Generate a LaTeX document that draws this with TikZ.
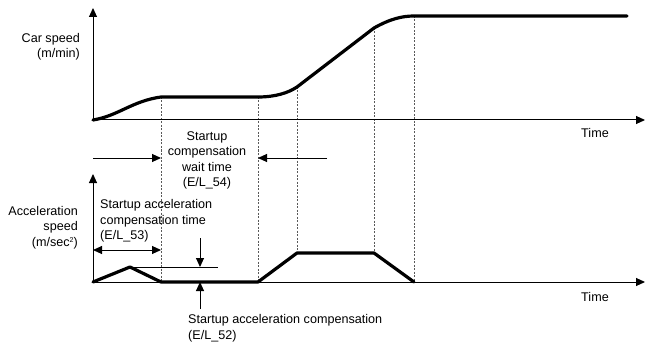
\documentclass[tikz,border=0pt]{standalone}
\usepackage{fontspec}
\setmainfont{Liberation Sans}
\usetikzlibrary{arrows.meta}
\begin{document}
\begin{tikzpicture}[x=1pt,y=-1pt,
  axis/.style={line width=1pt,-{Triangle[length=9pt,width=8pt]}},
  curve/.style={line width=3.2pt,line join=round,line cap=round},
  guide/.style={line width=0.8pt,gray!70!black,dash pattern=on 2pt off 1.5pt},
  thinline/.style={line width=1pt},
  pointer/.style={line width=1pt,-{Triangle[length=9pt,width=8pt]}},
  dbl/.style={line width=1pt,{Triangle[length=9pt,width=8pt]}-{Triangle[length=9pt,width=8pt]}},
  lbl/.style={inner sep=0pt,font=\fontsize{12.6}{15.5}\selectfont}
]
\useasboundingbox (0,0) rectangle (645,342);
% coordinates
\coordinate (o1) at (93,120);
\coordinate (y1) at (93,8);
\coordinate (x1) at (645,120);
\coordinate (o2) at (93,282);
\coordinate (y2) at (93,174);
\coordinate (x2) at (645,282);
% speed key points
\coordinate (s1) at (161,97);
\coordinate (s2) at (258,97);
\coordinate (s3) at (297,87);
\coordinate (s4) at (374,28);
\coordinate (s5) at (414,16);
\coordinate (s6) at (627,16);
% acceleration key points
\coordinate (a0) at (93,282);
\coordinate (ap) at (130,267);
\coordinate (a1) at (161,282);
\coordinate (a2) at (258,282);
\coordinate (a3) at (297,253);
\coordinate (a4) at (374,253);
\coordinate (a5) at (414,282);
% guides
\draw[guide] (s1) -- (a1);
\draw[guide] (s2) -- (a2);
\draw[guide] (s3) -- (a3);
\draw[guide] (s4) -- (a4);
\draw[guide] (s5) -- (a5);
% axes
\draw[axis] (o1) -- (y1);
\draw[axis] (o1) -- (x1);
\draw[axis] (o2) -- (y2);
\draw[axis] (o2) -- (x2);
% speed curve
\draw[curve] (o1) .. controls (118,116) and (132,101) .. (s1) -- (s2)
  .. controls (275,97) and (288,93) .. (s3) -- (s4)
  .. controls (390,19) and (402,16) .. (s5) -- (s6);
% acceleration curve
\draw[curve] (a0) -- (ap) -- (a1) -- (a2) -- (a3) -- (a4) -- (a5);
% compensation level
\coordinate (pe) at (218,267);
\draw[thinline] (ap) -- (pe);
\coordinate (dtop) at (200,238);
\coordinate (dbot) at (200,267);
\draw[pointer] (dtop) -- (dbot);
\coordinate (ubot) at (200,309);
\coordinate (utop) at (200,282);
\draw[pointer] (ubot) -- (utop);
% wait time arrows
\coordinate (wl) at (93,158);
\coordinate (wr) at (327,158);
\coordinate (w1) at (161,158);
\coordinate (w2) at (258,158);
\draw[pointer] (wl) -- (w1);
\draw[pointer] (wr) -- (w2);
% accel comp time arrow
\coordinate (t1) at (93,250);
\coordinate (t2) at (161,250);
\draw[dbl] (t1) -- (t2);
% labels
\node[lbl,align=right,anchor=north east] (carspeed) at (80,33) {Car speed\\(m/min)};
\node[lbl,align=right,anchor=north east] (accel) at (78,206) {Acceleration\\speed\\(m/sec\raisebox{0.55ex}{\fontsize{7}{8}\selectfont 2})};
\node[lbl,anchor=base] (time1) at (595,137.5) {Time};
\node[lbl,anchor=base] (time2) at (595,301.5) {Time};
\node[lbl,align=center,anchor=north] (wait) at (207,131.5) {Startup\\compensation\\wait time\\(E/L\_54)};
\node[lbl,align=left,anchor=north west] (acct) at (100,199.5) {Startup acceleration\\compensation time\\(E/L\_53)};
\node[lbl,align=left,anchor=north west] (accc) at (188,314.5) {Startup acceleration compensation\\(E/L\_52)};
\end{tikzpicture}
\end{document}
